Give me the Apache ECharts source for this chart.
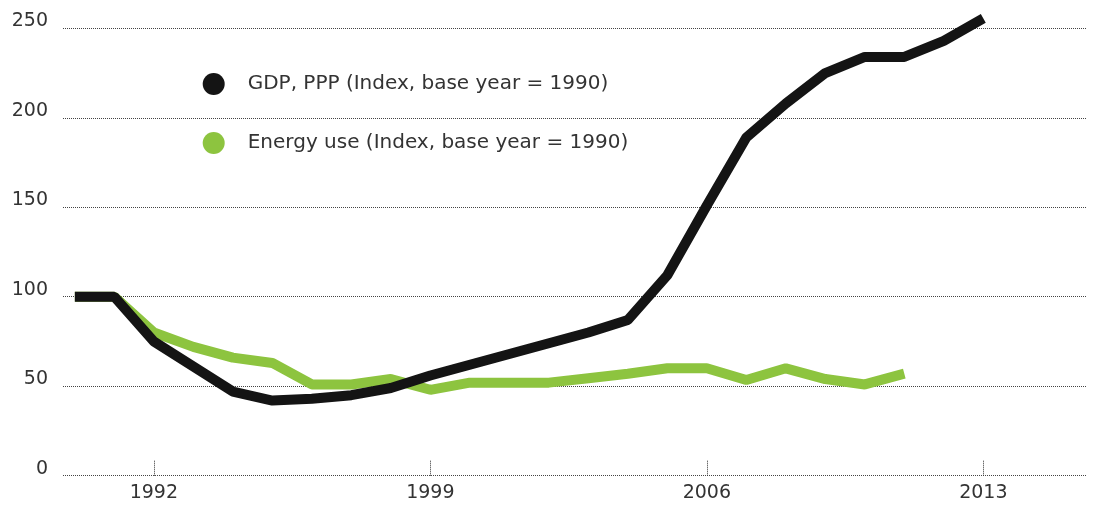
<!DOCTYPE html>
<html>
<head>
<meta charset="utf-8">
<script src="https://cdn.jsdelivr.net/npm/echarts@6/dist/echarts.min.js"></script>
<style>
  html, body { margin: 0; padding: 0; background: #fff; }
  #chart { width: 1096px; height: 505px; }
</style>
</head>
<body>
<div id="chart"></div>
<script>
// index values, base year 1990 = 100
const gdpYears = [1990, 1991, 1992, 1993, 1994, 1995, 1996, 1997, 1998, 1999, 2000, 2001,
  2002, 2003, 2004, 2005, 2006, 2007, 2008, 2009, 2010, 2011, 2012, 2013];
const gdpValues = [100, 100, 75, 61, 47, 42, 43, 45, 49, 56, 62, 68,
  74, 80, 87, 112, 151, 189, 208, 225, 234, 234, 243, 255.5];

const energyYears = [1990, 1991, 1992, 1993, 1994, 1995, 1996, 1997, 1998, 1999, 2000,
  2001, 2002, 2003, 2004, 2005, 2006, 2007, 2008, 2009, 2010, 2011];
const energyValues = [100, 100, 80, 72, 66, 63, 51, 51, 54, 48, 52,
  52, 52, 54.5, 57, 60, 60, 53.5, 60, 54, 51, 57];

const yearTicks = [1992, 1999, 2006, 2013];

const gdpName = 'GDP, PPP (Index, base year = 1990)';
const energyName = 'Energy use (Index, base year = 1990)';

const font = 'DejaVu Sans';
const chart = echarts.init(document.getElementById('chart'));

chart.setOption({
  animation: false,
  textStyle: { fontFamily: font },
  grid: { left: 63, right: 10, top: 28.3, bottom: 29.3 },
  legend: {
    orient: 'vertical',
    left: 202.7,
    top: 73,
    padding: 0,
    itemGap: 37,
    itemWidth: 22,
    itemHeight: 22,
    icon: 'circle',
    data: [gdpName, energyName],
    textStyle: { fontFamily: font, fontSize: 20, color: '#333', padding: [0, 0, 0, 18] }
  },
  xAxis: {
    type: 'value',
    min: 1989.7,
    max: 2015.6,
    axisLine: { show: false },
    splitLine: { show: false },
    axisTick: {
      show: true,
      inside: true,
      length: 15,
      customValues: yearTicks,
      lineStyle: { color: '#333', type: 'dotted', width: 1 }
    },
    axisLabel: {
      customValues: yearTicks,
      formatter: (v) => String(v),
      fontSize: 19,
      color: '#333',
      margin: 8,
      fontFamily: font
    }
  },
  yAxis: {
    type: 'value',
    min: 0,
    max: 250,
    interval: 50,
    axisLine: { show: false },
    axisTick: { show: false },
    axisLabel: {
      fontSize: 19,
      color: '#333',
      margin: 15,
      verticalAlign: 'bottom',
      lineHeight: 14,
      fontFamily: font
    },
    splitLine: { lineStyle: { color: '#444', type: 'dotted', width: 1 } }
  },
  series: [
    {
      name: energyName,
      type: 'line',
      clip: false,
      symbol: 'none',
      color: '#8dc43f',
      lineStyle: { width: 10, color: '#8dc43f' },
      data: energyYears.map((y, i) => [y, energyValues[i]])
    },
    {
      name: gdpName,
      type: 'line',
      clip: false,
      symbol: 'none',
      color: '#141414',
      lineStyle: { width: 10, color: '#141414' },
      data: gdpYears.map((y, i) => [y, gdpValues[i]])
    }
  ]
});
</script>
</body>
</html>
